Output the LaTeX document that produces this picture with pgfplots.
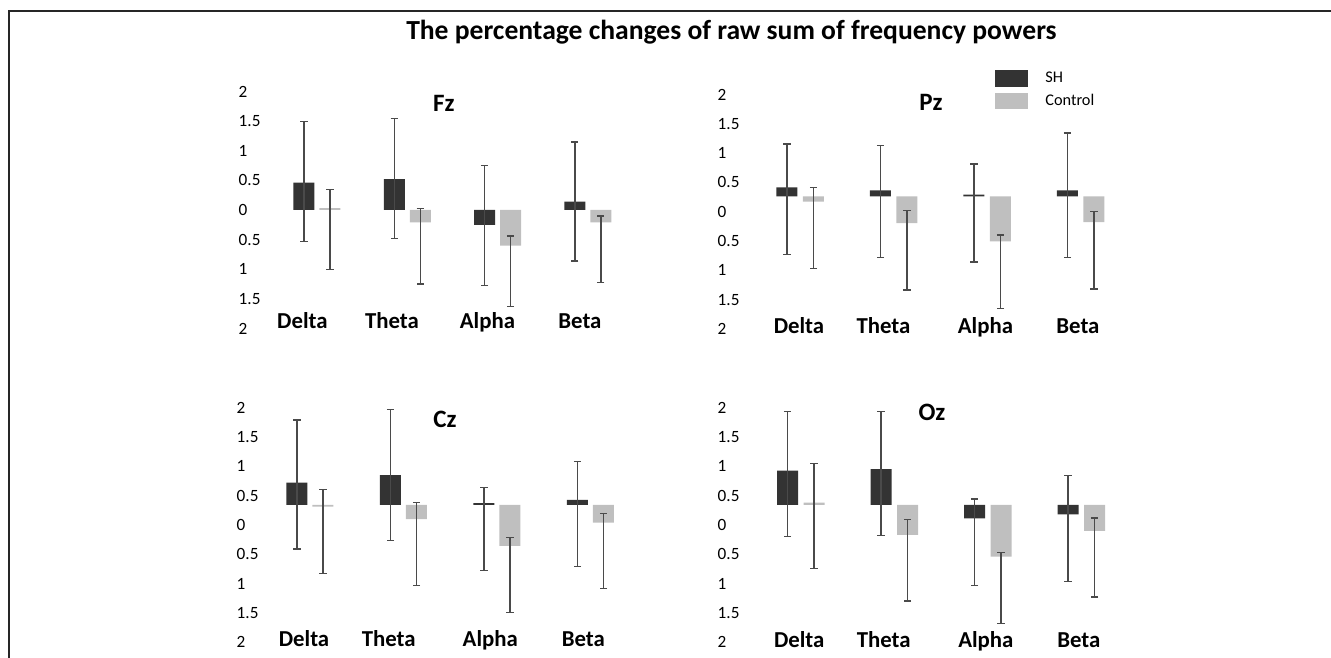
\documentclass[border=0pt]{standalone}
\usepackage{pgfplots}
\pgfplotsset{compat=1.18}
\usepackage{pgfplotstable}
\usepackage{fontspec}
\setmainfont{Carlito}
\definecolor{shc}{HTML}{333333}
\definecolor{ctl}{HTML}{BFBFBF}
\definecolor{errc}{HTML}{4A4A4A}
\definecolor{framec}{HTML}{262626}

% columns: x position, bar value, upper end of error bar, lower end of error bar
\pgfplotstableread{
x y hi lo
0 0.46 1.49 -0.535
1 0.52 1.55 -0.48
2 -0.25 0.75 -1.28
3 0.14 1.15 -0.86
}\FzSH
\pgfplotstableread{
x y hi lo
0.288 0.03 0.35 -1.00
1.288 -0.21 0.03 -1.25
2.288 -0.60 -0.44 -1.63
3.288 -0.21 -0.10 -1.22
}\FzCT
\pgfplotstableread{
x y hi lo
0 0.15 0.89 -0.99
1 0.10 0.87 -1.05
2 0.03 0.55 -1.12
3 0.10 1.08 -1.05
}\PzSH
\pgfplotstableread{
x y hi lo
0.283 -0.09 0.15 -1.23
1.283 -0.46 -0.24 -1.60
2.283 -0.77 -0.66 -1.91
3.283 -0.44 -0.26 -1.58
}\PzCT
\pgfplotstableread{
x y hi lo
0 0.38 1.45 -0.75
1 0.51 1.63 -0.61
2 0.03 0.30 -1.12
3 0.085 0.74 -1.05
}\CzSH
\pgfplotstableread{
x y hi lo
0.278 -0.03 0.26 -1.17
1.278 -0.24 0.04 -1.38
2.278 -0.70 -0.56 -1.84
3.278 -0.30 -0.15 -1.43
}\CzCT
\pgfplotstableread{
x y hi lo
0 0.585 1.59 -0.54
1 0.61 1.59 -0.52
2 -0.23 0.10 -1.37
3 -0.16 0.50 -1.30
}\OzSH
\pgfplotstableread{
x y hi lo
0.283 0.04 0.71 -1.09
1.283 -0.51 -0.245 -1.64
2.283 -0.88 -0.81 -2.02
3.283 -0.44 -0.22 -1.57
}\OzCT

\tikzset{ptitle/.style={font=\fontsize{25}{25}\selectfont\bfseries}}
\pgfplotsset{
  panel/.style={
    clip=false,
    anchor=south west,
    axis line style={draw=none},
    tick style={draw=none},
    major tick length=0pt,
    xmax=3.6,
    xticklabels={Delta,Theta,Alpha,Beta},
    xticklabel style={font=\fontsize{22.8}{23}\selectfont\bfseries, anchor=base},
    yticklabels={2,1.5,1,0.5,0,0.5,1,1.5,2},
    yticklabel style={font=\fontsize{17.2}{18}\selectfont, anchor=west, inner sep=0pt},
  },
  barplot/.style={ybar, bar width=21pt, bar shift=0pt, draw=none, fill=#1, forget plot,
    error bars/.cd, y dir=both, y explicit,
    error bar style={errc, line width=1.3pt},
    error mark options={errc, line width=1.3pt, mark size=3.6pt, rotate=90}},
}
\newcommand{\bars}[2]{%
  \addplot[barplot=#2] table[x=x, y=y, y error plus expr=\thisrow{hi}-\thisrow{y},
    y error minus expr=\thisrow{y}-\thisrow{lo}] {#1};}

\begin{document}
\begin{tikzpicture}[x=1pt,y=1pt]
\useasboundingbox (0pt,0pt) rectangle (1331pt,658pt);
\draw[framec, line width=1.5pt] (9pt,0pt) -- (9pt,647pt) -- (1331pt,647pt);
\node[anchor=base, font=\fontsize{27.6}{28}\selectfont\bfseries] at (731.5pt,618.5pt)
  {The percentage changes of raw sum of frequency powers};

% Fz
\begin{axis}[panel, x=90.3pt, y=59.25pt, at={(238.5pt,329.5pt)},
  xmin=-0.725, ymin=-2, ymax=2.1,
  ytick={-2,-1.5,-1,-0.5,0,0.5,1,1.5,2},
  xtick={-0.017,0.975,2.032,3.056},
  xticklabel style={yshift=-0.5pt}]
\bars{\FzSH}{shc}
\bars{\FzCT}{ctl}
\node[ptitle] at (axis cs:1.55,1.806) {Fz};
\end{axis}

% Pz
\begin{axis}[panel, x=93.5pt, y=58.6pt, at={(717.5pt,329.1pt)},
  xmin=-0.743, ymin=-2.263, ymax=1.837,
  ytick={-2.263,-1.763,-1.263,-0.763,-0.263,0.237,0.737,1.237,1.737},
  xtick={0.128,1.032,2.123,3.112},
  xticklabel style={yshift=-5.1pt},
  legend style={at={(0.6833,1.0776)}, anchor=north west, draw=none, fill=none,
    inner sep=0pt, outer sep=0pt, row sep=6.5pt, column sep=18pt,
    nodes={inner sep=0pt, anchor=west},
    font=\fontsize{16.3}{17}\selectfont}]
\bars{\PzSH}{shc}
\bars{\PzCT}{ctl}
\addlegendimage{legend image code/.code={\fill[shc] (0pt,-8pt) rectangle (32pt,8pt);}}
\addlegendentry{SH}
\addlegendimage{legend image code/.code={\fill[ctl] (0pt,-7.5pt) rectangle (32pt,7.5pt);}}
\addlegendentry{Control}
\node[ptitle] at (axis cs:1.54,1.609) {Pz};
\end{axis}

% Cz
\begin{axis}[panel, x=93.5pt, y=58.6pt, at={(236.5pt,15.9pt)},
  xmin=-0.647, ymin=-2.34, ymax=1.76,
  ytick={-2.34,-1.84,-1.34,-0.84,-0.34,0.16,0.66,1.16,1.66},
  xtick={0.075,0.981,2.067,3.062},
  xticklabel style={yshift=-4.6pt}]
\bars{\CzSH}{shc}
\bars{\CzCT}{ctl}
\node[ptitle] at (axis cs:1.583,1.468) {Cz};
\end{axis}

% Oz
\begin{axis}[panel, x=93.5pt, y=58.6pt, at={(717.5pt,15.9pt)},
  xmin=-0.749, ymin=-2.34, ymax=1.76,
  ytick={-2.34,-1.84,-1.34,-0.84,-0.34,0.16,0.66,1.16,1.66},
  xtick={0.125,1.029,2.121,3.115},
  xticklabel style={yshift=-5.2pt}]
\bars{\OzSH}{shc}
\bars{\OzCT}{ctl}
\node[ptitle] at (axis cs:1.545,1.587) {Oz};
\end{axis}
\end{tikzpicture}
\end{document}
